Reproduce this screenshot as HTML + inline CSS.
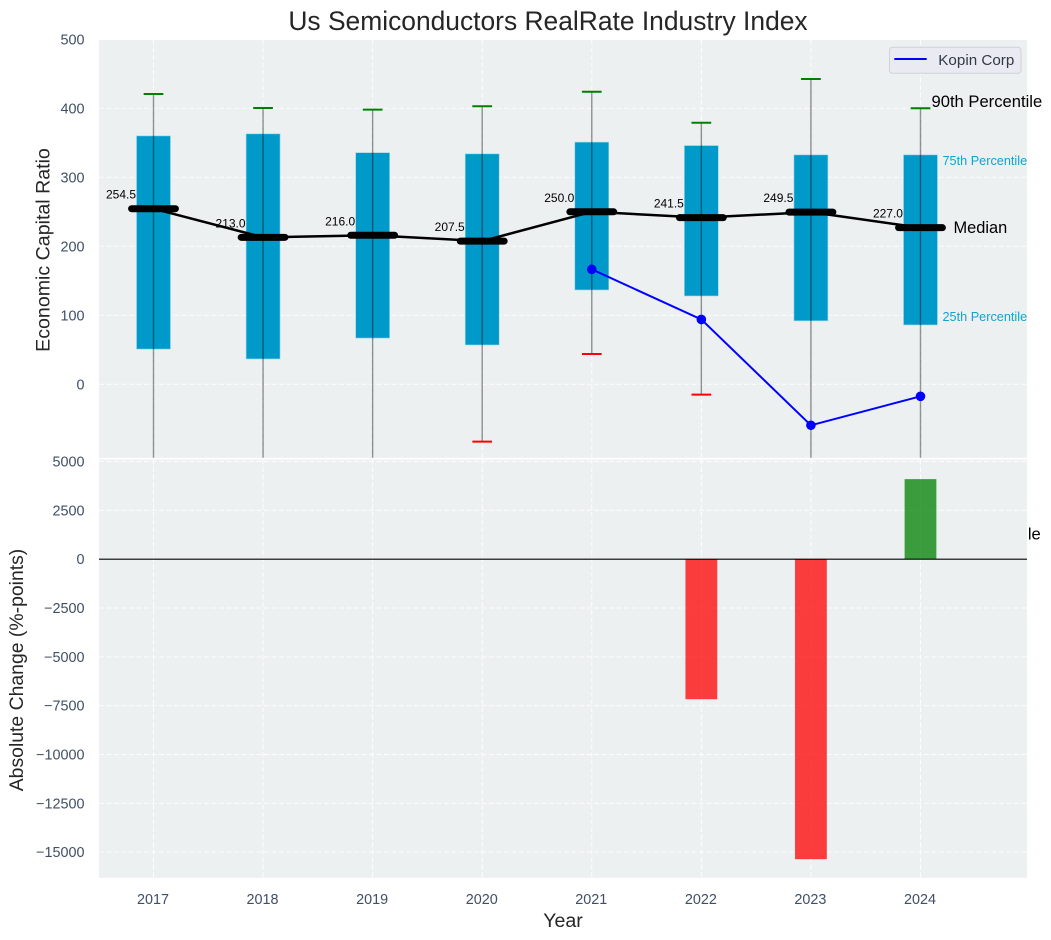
<!DOCTYPE html>
<html lang="en">
<head>
<meta charset="utf-8">
<title>Us Semiconductors RealRate Industry Index</title>
<style>
html,body{margin:0;padding:0;background:#fff;width:1051px;height:940px;overflow:hidden}
svg{display:block;font-family:"Liberation Sans",Arial,sans-serif}
</style>
</head>
<body>
<svg id="chart" width="1051" height="940" viewBox="0 0 1051 940" xmlns="http://www.w3.org/2000/svg">
  <defs>
    <clipPath id="top-clip"><rect x="99" y="40" width="928" height="417.8"></rect></clipPath>
    <clipPath id="bottom-clip"><rect x="99" y="459.6" width="928" height="418.2"></rect></clipPath>
  </defs>
</svg>
<script>
const years = [2017, 2018, 2019, 2020, 2021, 2022, 2023, 2024];
const p90 = [420.7, 400.4, 398, 403, 424, 379, 442.5, 400];
const p75 = [360, 363, 335.7, 334, 351, 346, 332.5, 332.5];
const medians = [254.5, 213.0, 216.0, 207.5, 250.0, 241.5, 249.5, 227.0];
const p25 = [51, 36.7, 67, 57, 136.7, 128, 92, 86];
const p10 = [-150, -160, -140, -83, 44, -15, -190, -227];
const kopin = [null, null, null, null, 166.6, 94, -59.4, -17.4];
const absChange = [null, null, null, null, null, -7170, -15360, 4100];
const topTicks = [0, 100, 200, 300, 400, 500];
const bottomTicks = [5000, 2500, 0, -2500, -5000, -7500, -10000, -12500, -15000];

const NS = 'http://www.w3.org/2000/svg';
const svg = document.getElementById('chart');
const LEFT = 99, RIGHT = 1027;
const xAt = v => 153.5 + (v - 2017) * 109.57;
const yTop = v => 384.3 - v * 0.69;
const yBot = v => 559.2 - v * 0.01953;
const BOX_W = 0.31, MED_HALF = 0.2, CAP_HALF = 0.09;

function mk(tag, attrs, parent, text) {
  const el = document.createElementNS(NS, tag);
  for (const k in attrs) el.setAttribute(k, attrs[k]);
  if (text !== undefined) el.textContent = text;
  (parent || svg).appendChild(el);
  return el;
}
const label = (parent, x, y, size, fill, anchor, str) =>
  mk('text', {x: x, y: y, 'font-size': size, fill: fill, 'text-anchor': anchor}, parent, str);

/* title */
let el = label(svg, 548, 30, 26.4, '#262626', 'middle', 'Us Semiconductors RealRate Industry Index');



/* top axes */
const topAxes = mk('g', {});


el = mk('rect', {x: LEFT, y: 40, width: RIGHT - LEFT, height: 417.8, fill: '#ecf0f1'}, topAxes);



const GRID = {stroke: '#ffffff', 'stroke-width': 1, 'stroke-dasharray': '5 2.5', 'stroke-opacity': 0.85};
const topClip = mk('g', {'clip-path': 'url(#top-clip)'}, topAxes);



topTicks.forEach(t => {
  const line = mk('line', Object.assign({x1: LEFT, x2: RIGHT, y1: yTop(t), y2: yTop(t)}, GRID), topClip);
  
  
  const tick = label(svg, 84.5, yTop(t) + 5, 14.4, '#3f4f66', 'end', String(t));
  
  
});
years.forEach(yr => {
  const line = mk('line', Object.assign({x1: xAt(yr), x2: xAt(yr), y1: 40, y2: 458}, GRID), topClip);
  
  
});

/* median value labels sit under the boxes */
years.forEach((yr, i) => {
  const t = label(topClip, xAt(yr) - 17.5, yTop(medians[i]) - 10, 12, '#000000', 'end', medians[i].toFixed(1));
  
  
});

/* boxes */
years.forEach((yr, i) => {
  const w = BOX_W * 109.57;
  const b = mk('rect', {
    x: xAt(yr) - w / 2, y: yTop(p75[i]), width: w, height: yTop(p25[i]) - yTop(p75[i]),
    fill: '#009aca', stroke: '#9fd6e8', 'stroke-width': 0.6
  }, topClip);
  
  
});

/* whiskers and caps */
years.forEach((yr, i) => {
  const x = xAt(yr);
  const w = mk('line', {x1: x, x2: x, y1: yTop(p90[i]), y2: yTop(p10[i]), stroke: '#000000', 'stroke-opacity': 0.42, 'stroke-width': 1.4}, topClip);
  
  
  const hi = mk('line', {x1: x - CAP_HALF * 109.57, x2: x + CAP_HALF * 109.57, y1: yTop(p90[i]), y2: yTop(p90[i]), stroke: '#008000', 'stroke-width': 2}, topClip);
  
  
  const lo = mk('line', {x1: x - CAP_HALF * 109.57, x2: x + CAP_HALF * 109.57, y1: yTop(p10[i]), y2: yTop(p10[i]), stroke: '#ff0000', 'stroke-width': 2}, topClip);
  
  
});

/* median line */
el = mk('polyline', {
  points: years.map((yr, i) => xAt(yr) + ',' + yTop(medians[i])).join(' '),
  fill: 'none', stroke: '#000000', 'stroke-width': 2.5, 'stroke-linejoin': 'round'
}, topClip);


years.forEach((yr, i) => {
  const m = mk('line', {
    x1: xAt(yr) - MED_HALF * 109.57, x2: xAt(yr) + MED_HALF * 109.57,
    y1: yTop(medians[i]), y2: yTop(medians[i]),
    stroke: '#000000', 'stroke-width': 7, 'stroke-linecap': 'round'
  }, topClip);
  
  
});

/* Kopin Corp series */
el = mk('polyline', {
  points: years.map((yr, i) => kopin[i] === null ? null : xAt(yr) + ',' + yTop(kopin[i])).filter(Boolean).join(' '),
  fill: 'none', stroke: '#0000ff', 'stroke-width': 2
}, topClip);


years.forEach((yr, i) => {
  if (kopin[i] === null) return;
  const c = mk('circle', {cx: xAt(yr), cy: yTop(kopin[i]), r: 4.8, fill: '#0000ff'}, topClip);
  
  
});

/* percentile annotations, anchored on the final year */
const last = years.length - 1;
const lastX = xAt(years[last]);
el = label(svg, lastX + 11, yTop(p90[last]) - 1.5, 16.6, '#000000', 'start', '90th Percentile');


el = label(svg, lastX + 22, yTop(p75[last]) + 10, 12.7, '#12a3d0', 'start', '75th Percentile');


el = label(svg, lastX + 33, yTop(medians[last]) + 5.5, 16.4, '#000000', 'start', 'Median');


el = label(svg, lastX + 22, yTop(p25[last]) - 4, 12.7, '#12a3d0', 'start', '25th Percentile');


el = label(svg, lastX + 9.6, yTop(p10[last]) - 1.5, 16.6, '#000000', 'start', '10th Percentile');



/* legend */
const legend = mk('g', {});


el = mk('rect', {x: 889.5, y: 47.3, width: 131.5, height: 26, rx: 3, fill: '#eaeaf2', stroke: '#cfd2d6', 'stroke-width': 1}, legend);


el = mk('line', {x1: 894.3, x2: 926.7, y1: 59, y2: 59, stroke: '#0000ff', 'stroke-width': 2}, legend);


el = label(legend, 938.3, 65, 15.2, '#333a45', 'start', 'Kopin Corp');



/* bottom axes (painted over the top panel's overflowing text) */
const botAxes = mk('g', {});


el = mk('rect', {x: LEFT, y: 459.6, width: RIGHT - LEFT, height: 418.2, fill: '#ecf0f1'}, botAxes);


const botClip = mk('g', {'clip-path': 'url(#bottom-clip)'}, botAxes);



bottomTicks.forEach(t => {
  const line = mk('line', Object.assign({x1: LEFT, x2: RIGHT, y1: yBot(t), y2: yBot(t)}, GRID), botClip);
  
  
  const tick = label(svg, 84.5, yBot(t) + 5, 14.4, '#3f4f66', 'end', String(t).replace('-', '\u2212'));
  
  
});
years.forEach(yr => {
  const line = mk('line', Object.assign({x1: xAt(yr), x2: xAt(yr), y1: 459.6, y2: 878}, GRID), botClip);
  
  
  const tick = label(svg, xAt(yr) - 0.5, 904, 14.4, '#3f4f66', 'middle', String(yr));
  
  
});

years.forEach((yr, i) => {
  if (absChange[i] === null) return;
  const v = absChange[i];
  const w = 0.29 * 109.57;
  const b = mk('rect', {
    x: xAt(yr) - w / 2, y: Math.min(yBot(v), yBot(0)), width: w, height: Math.abs(yBot(v) - yBot(0)),
    fill: v < 0 ? '#ff0000' : '#008000', 'fill-opacity': 0.75
  }, botClip);
  
  
});

el = mk('line', {x1: LEFT, x2: RIGHT, y1: yBot(0), y2: yBot(0), stroke: '#000000', 'stroke-width': 1.2}, botClip);



/* axis titles */
el = mk('text', {transform: 'translate(49.5,250) rotate(-90)', 'font-size': 19.6, fill: '#262626', 'text-anchor': 'middle'}, svg, 'Economic Capital Ratio');


el = mk('text', {transform: 'translate(23,670) rotate(-90)', 'font-size': 19.4, fill: '#262626', 'text-anchor': 'middle'}, svg, 'Absolute Change (%-points)');


el = label(svg, 563, 927, 19.6, '#262626', 'middle', 'Year');


</script>
</body>
</html>
